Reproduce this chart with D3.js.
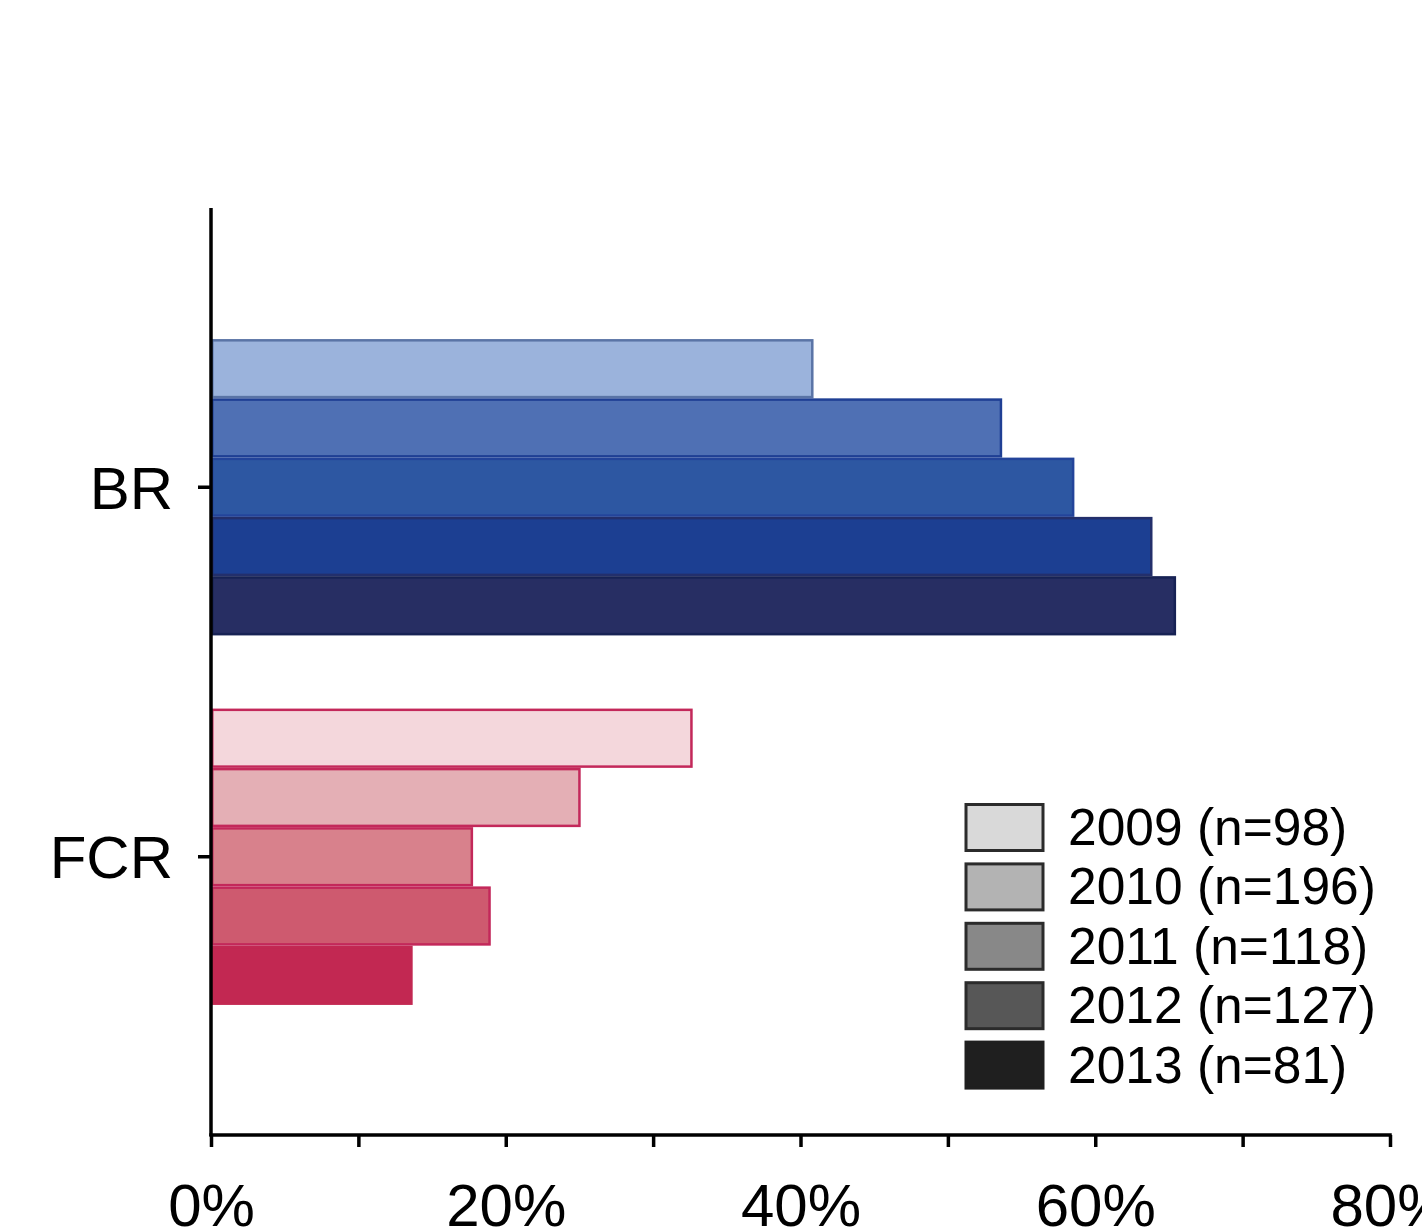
<!DOCTYPE html>
<html>
<head>
<meta charset="utf-8">
<script src="https://cdn.jsdelivr.net/npm/d3@7"></script>
<style>
  html, body { margin: 0; padding: 0; background: #fff; }
  svg { display: block; font-family: "Liberation Sans", Arial, sans-serif; }
</style>
</head>
<body>
<svg id="chart" width="1422" height="1230"></svg>
<script>
// Share of respondents per group and survey year (percent)
const groups = ["BR", "FCR"];
const years = ["2009", "2010", "2011", "2012", "2013"];
const sampleSizes = [98, 196, 118, 127, 81];
const brValues = [40.8, 53.6, 58.5, 63.8, 65.4];
const fcrValues = [32.6, 25.0, 17.7, 18.9, 13.6];
const xTicks = [0, 10, 20, 30, 40, 50, 60, 70, 80];

const brFill = ["#9bb3dc", "#4f70b4", "#2d57a2", "#1c3f92", "#272e63"];
const brStroke = ["#5a74a6", "#1f3f94", "#23449a", "#232f6b", "#172254"];
const fcrFill = ["#f4d7dc", "#e4afb5", "#d8818c", "#ce5a6f", "#c22852"];
const fcrStroke = ["#c3285a", "#c3285a", "#c3285a", "#c3285a", "#c22852"];
const legendFill = ["#d9d9d9", "#b3b3b3", "#888888", "#575757", "#1f1f1f"];

const rows = [];
groups.forEach((g, gi) => {
  years.forEach((y, yi) => {
    rows.push({
      group: g,
      year: y,
      value: gi === 0 ? brValues[yi] : fcrValues[yi],
      fill: gi === 0 ? brFill[yi] : fcrFill[yi],
      stroke: gi === 0 ? brStroke[yi] : fcrStroke[yi]
    });
  });
});

const svg = d3.select("#chart");

const x = d3.scaleLinear().domain([0, 80]).range([211, 1390]);
const y = d3.scaleBand().domain(groups).range([209, 1135])
  .paddingInner(0.198).paddingOuter(0.352);
const yInner = d3.scaleBand().domain(years).range([0, y.bandwidth()]).padding(0);

// Bars
const sw = 2.5;
svg.append("g").selectAll("rect")
  .data(rows)
  .join("rect")
  .attr("x", x(0) + sw / 2)
  .attr("y", d => y(d.group) + yInner(d.year) + sw / 2)
  .attr("width", d => x(d.value) - x(0) - sw / 2)
  .attr("height", yInner.bandwidth() - sw)
  .attr("fill", d => d.fill)
  .attr("stroke", d => d.stroke)
  .attr("stroke-width", sw);

// X axis
const xAxis = d3.axisBottom(x)
  .tickValues(xTicks)
  .tickSize(12)
  .tickSizeOuter(0)
  .tickPadding(36)
  .tickFormat(d => d % 20 === 0 ? d + "%" : "");

const gx = svg.append("g")
  .attr("transform", "translate(0,1135)")
  .call(xAxis);
gx.select(".domain").attr("stroke", "#000").attr("stroke-width", 3.5)
  .attr("d", `M${x(0) - 1.75},0H${x(80) + 1.75}`);
gx.selectAll(".tick line").attr("stroke", "#000").attr("stroke-width", 3.5);
gx.selectAll(".tick text")
  .attr("fill", "#000")
  .attr("font-size", 60)
  .attr("font-family", "Liberation Sans, Arial, sans-serif");

// Y axis
const yAxis = d3.axisLeft(y)
  .tickSize(13)
  .tickSizeOuter(0)
  .tickPadding(25);

const gy = svg.append("g")
  .attr("transform", `translate(${x(0)},0)`)
  .call(yAxis);
gy.select(".domain").attr("stroke", "#000").attr("stroke-width", 3.5)
  .attr("d", "M0,208V1136");
gy.selectAll(".tick line").attr("stroke", "#000").attr("stroke-width", 3.5);
gy.selectAll(".tick text")
  .attr("fill", "#000")
  .attr("font-size", 60)
  .attr("dy", "0.36em")
  .attr("font-family", "Liberation Sans, Arial, sans-serif");

// Legend
const legendY = d3.scaleBand().domain(years).range([800, 1097]).padding(0);
const legend = svg.append("g");
const items = legend.selectAll("g")
  .data(years)
  .join("g")
  .attr("transform", d => `translate(966,${legendY(d)})`);

items.append("rect")
  .attr("x", 0)
  .attr("y", 4.5)
  .attr("width", 77)
  .attr("height", 46)
  .attr("fill", (d, i) => legendFill[i])
  .attr("stroke", (d, i) => i === 4 ? legendFill[i] : "#2b2b2b")
  .attr("stroke-width", 3);

items.append("text")
  .attr("x", 102)
  .attr("y", 45)
  .attr("font-size", 51.5)
  .attr("fill", "#000")
  .text((d, i) => `${d} (n=${sampleSizes[i]})`);
</script>
</body>
</html>
